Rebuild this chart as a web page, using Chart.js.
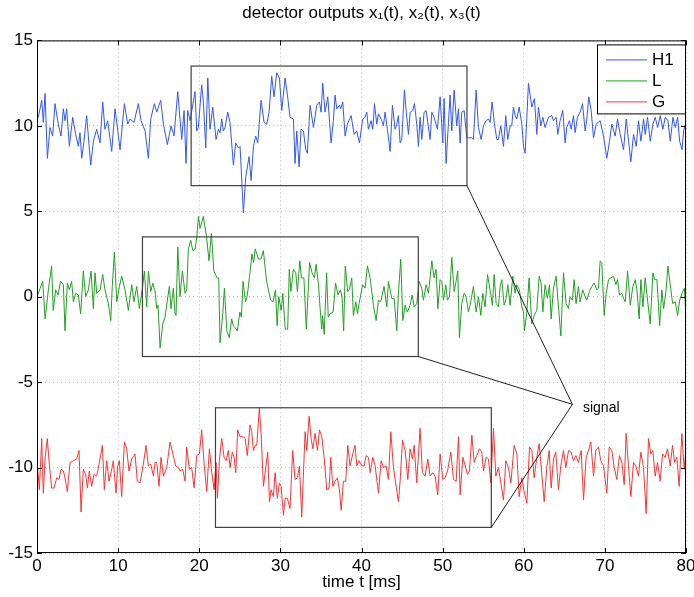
<!DOCTYPE html>
<html><head><meta charset="utf-8">
<script src="https://cdn.jsdelivr.net/npm/chart.js@4.4.1/dist/chart.umd.min.js"></script>
<style>html,body{margin:0;padding:0;background:#fff}#wrap{width:694px;height:597px}</style>
</head><body><div id="wrap"><canvas id="c" width="694" height="597"></canvas></div>
<script>
const TITLE = 'detector outputs x\u2081(t), x\u2082(t), x\u2083(t)';
const X_LABEL = 'time t [ms]';
const SERIES_NAMES = ['H1', 'L', 'G'];
const SERIES_COLORS = ['#3355ff', '#22a022', '#ff3333'];
const X_TICKS = [0, 10, 20, 30, 40, 50, 60, 70, 80];
const Y_TICKS = [-15, -10, -5, 0, 5, 10, 15];

// [t (ms), value]
const H1 = [[0.16,10.5],[0.58,11.5],[0.78,10.2],[0.99,11.9],[1.28,8.1],[1.60,9.9],[1.93,9.4],[2.22,11.3],[2.63,10.1],[2.96,9.4],[3.25,11.0],[3.45,10.3],[3.66,11.0],[3.99,8.8],[4.40,10.5],[4.77,9.5],[5.10,8.8],[5.30,9.6],[5.51,8.1],[5.79,9.1],[6.12,10.6],[6.62,7.7],[6.95,9.1],[7.36,9.8],[7.77,9.0],[8.10,11.4],[8.38,9.8],[8.71,10.3],[9.21,8.5],[9.62,11.0],[10.24,8.6],[10.77,11.3],[11.18,10.1],[11.47,10.4],[11.96,10.2],[12.49,11.3],[12.83,10.3],[13.32,9.7],[13.73,8.1],[14.02,10.4],[14.47,11.3],[14.76,10.8],[15.25,11.5],[15.58,10.1],[16.07,8.9],[16.52,10.0],[16.89,9.4],[17.35,12.0],[17.84,9.2],[18.13,10.9],[18.37,7.8],[18.58,10.9],[18.87,10.3],
[19.48,12.0],[19.69,9.7],[19.89,9.9],[20.30,12.4],[20.51,11.4],[20.80,8.7],[21.05,12.8],[21.33,9.8],[21.66,11.1],[22.07,9.2],[22.36,9.8],[22.56,9.6],[22.77,10.4],[22.97,9.7],[23.18,9.9],[23.51,10.8],[23.80,10.2],[24.21,7.7],[24.49,9.0],[24.83,8.7],[25.03,8.8],[25.44,4.9],[25.73,7.0],[26.14,8.2],[26.39,6.8],[26.68,8.8],[26.96,9.4],[27.21,9.0],[27.62,11.5],[27.99,10.2],[28.32,10.1],[28.61,10.8],[28.93,12.9],[29.22,11.7],[29.55,13.1],[29.88,12.8],[30.17,10.9],[30.58,12.8],[30.87,11.8],[31.19,10.5],[31.61,10.4],[31.81,7.8],[32.02,9.7],[32.31,7.6],[32.55,9.8],[32.84,9.7],[33.13,8.6],[33.33,8.4],[33.66,11.2],[34.08,9.9],[34.48,11.2],[34.81,11.4],[35.02,10.8],[35.22,12.5],[35.51,10.8],[35.84,11.7],[36.25,9.0],[36.53,10.3],[36.74,11.8],[36.95,11.0],[37.28,11.2],[37.44,11.0],[37.69,11.4],[37.98,9.4],[38.27,10.1],[38.72,10.6],[39.09,9.5],[39.41,9.7],[39.75,9.0],
[40.15,10.4],[40.44,10.5],[40.65,10.8],[40.85,9.8],[41.18,10.3],[41.39,9.8],[41.60,11.3],[41.88,10.1],[42.09,10.7],[42.50,10.3],[42.70,10.0],[42.91,10.8],[43.19,9.8],[43.53,8.5],[43.81,11.2],[44.14,9.8],[44.35,10.1],[44.55,10.6],[44.76,9.0],[44.96,9.2],[45.29,12.1],[45.50,10.9],[45.79,9.5],[46.00,10.8],[46.32,10.9],[46.53,11.3],[46.81,10.1],[47.02,8.8],[47.22,10.5],[47.43,9.2],[47.72,10.8],[47.97,10.9],[48.46,9.2],[48.67,10.8],[48.95,10.5],[49.36,9.8],[49.69,11.7],[50.02,9.0],[50.18,11.6],[50.43,7.8],[50.72,10.2],[50.92,11.8],[51.13,9.7],[51.42,12.1],[51.74,10.0],[51.95,11.0],[52.16,9.0],[52.36,10.8],[52.65,10.9],[52.98,9.3],[53.18,9.3],[53.59,9.3],[53.80,9.2],[54.13,12.1],[54.42,9.9],[54.75,9.2],[55.03,10.0],[55.36,10.3],[55.65,10.4],[55.85,10.2],[56.10,11.4],[56.39,10.1],[56.68,9.2],[56.88,9.2],[57.17,10.0],[57.50,8.8],[57.78,10.6],[58.03,9.2],[58.32,10.0],[58.52,10.0],[58.73,11.1],[58.93,10.6],[59.14,10.4],[59.43,11.1],[59.76,10.1],[59.97,8.8],
[60.17,8.4],[60.58,12.5],[60.99,11.1],[61.32,11.6],[61.61,9.5],[61.81,11.1],[62.10,10.0],[62.35,10.5],[62.63,9.9],[63.05,10.5],[63.46,10.6],[63.66,10.3],[63.99,10.5],[64.20,9.5],[64.48,10.3],[64.81,10.9],[65.10,9.0],[65.30,9.9],[65.63,10.3],[65.84,9.8],[66.13,10.6],[66.33,9.6],[66.62,10.5],[66.95,10.8],[67.24,11.3],[67.57,9.7],[67.77,10.4],[68.02,11.7],[68.31,10.9],[68.60,9.3],[68.93,10.1],[69.42,10.3],[69.83,9.4],[70.24,8.1],[70.57,9.1],[70.86,10.1],[71.27,9.4],[71.56,10.4],[71.89,9.5],[72.30,8.6],[72.63,10.4],[72.92,9.1],[73.20,7.9],[73.53,9.5],[73.86,8.8],[74.15,10.3],[74.44,9.1],[74.77,10.4],[74.97,9.5],[75.26,10.5],[75.59,9.1],[75.92,10.1],[76.21,10.5],[76.50,9.9],[76.83,10.6],[77.15,9.8],[77.44,10.5],[77.77,10.3],[78.06,9.1],[78.39,10.5],[78.68,9.9],[78.97,10.5],[79.22,9.1],[79.51,8.6],[79.71,9.7],[79.92,10.1]];

const L = [[0.04,0.05],[0.4,0.5],[0.7,0.9],[1.0,-1.3],[1.4,0.4],[1.8,1.8],[2.0,-0.8],[2.3,0.4],[2.6,0.1],[2.9,0.9],[3.25,0.7],[3.45,-2.0],[3.74,0.8],[3.99,0.4],[4.27,0.9],[4.48,-0.3],[4.77,0.2],[5.10,0.1],[5.38,-1.0],[5.71,1.5],[6.0,0.0],[6.33,0.4],[6.66,1.5],[6.95,-0.7],[7.15,1.4],[7.36,0.2],[7.77,0.4],[8.10,1.3],[8.38,0.4],[8.80,-0.4],[9.09,-1.4],[9.29,0.7],[9.54,2.6],[9.83,-0.3],[10.16,0.6],[10.44,1.2],[10.85,0.4],[11.26,-0.8],[11.68,0.7],[11.96,-0.3],[12.29,0.6],[12.62,-0.7],[12.99,0.5],[13.24,1.5],[13.52,-0.6],[13.73,1.5],[14.02,0.3],[14.27,0.8],[14.55,0.3],[14.76,-0.7],[14.92,-0.5],[15.17,-3.0],[15.50,-1.6],[15.78,-1.2],[16.07,-0.2],[16.32,0.6],[16.52,-0.7],[16.81,0.5],[17.01,-1.0],[17.14,-1.1],[17.35,2.9],[17.63,0.0],[17.92,1.5],[18.25,0.2],[18.45,0.4],[18.66,2.8],[18.95,3.3],[19.2,2.7],[19.5,2.8],[19.7,3.5],[19.9,4.7],[20.1,4.0],
[20.5,4.7],[20.9,3.5],[21.2,2.1],[21.5,3.7],[21.8,1.5],[22.2,1.1],[22.4,1.1],[22.56,-2.7],[22.9,-1.0],[23.1,0.5],[23.4,-2.0],[23.7,-2.4],[24.0,-1.3],[24.2,-1.7],[24.4,-1.8],[24.7,-2.0],[25.0,-0.9],[25.2,-1.2],[25.4,0.9],[25.7,-0.3],[25.9,0.0],[26.2,1.2],[26.5,2.5],[26.7,2.0],[26.9,2.8],[27.3,2.2],[27.6,2.2],[27.9,2.7],[28.3,0.9],[28.8,-0.2],[29.1,-0.3],[29.4,0.4],[29.6,-1.7],[29.8,0.0],[30.1,-0.8],[30.3,0.2],[30.6,-1.9],[30.9,-1.9],[31.1,1.6],[31.3,0.3],[31.6,1.6],[31.9,1.4],[32.1,0.3],[32.4,2.1],[32.6,1.1],[32.9,1.1],[33.2,-1.9],[33.6,2.0],[33.9,1.4],[34.2,1.1],[34.4,1.9],[34.7,0.7],[34.9,-0.7],[35.1,-1.9],[35.2,-1.1],[35.4,-2.2],[35.7,1.4],[35.9,-1.2],[36.1,-1.0],[36.5,-0.9],[36.8,0.8],[37.1,0.1],[37.4,0.4],[37.6,0.0],[37.8,-2.0],[38.0,1.8],[38.3,0.3],[38.5,0.4],[38.8,1.1],[39.0,-1.1],[39.3,-0.3],[39.5,-1.0],[39.7,-0.4],
[40.15,0.7],[40.44,0.5],[40.73,1.8],[41.06,1.1],[41.47,-0.5],[41.80,-1.4],[42.09,-0.2],[42.37,-0.3],[42.78,0.6],[43.12,-0.6],[43.32,0.9],[43.73,-0.1],[44.02,-0.1],[44.35,-2.0],[44.55,0.2],[44.84,2.2],[45.09,-1.4],[45.38,-0.5],[45.66,-0.9],[45.99,-0.5],[46.24,0.1],[46.49,-0.6],[46.81,-0.4],[47.10,0.9],[47.43,0.5],[47.63,-0.2],[47.97,0.7],[48.25,0.2],[48.67,2.1],[48.95,1.1],[49.20,1.6],[49.41,-0.7],[49.69,1.0],[49.90,0.9],[50.10,-0.2],[50.39,0.7],[50.59,-0.2],[50.84,0.0],[51.13,2.3],[51.42,0.3],[51.66,0.9],[51.87,1.5],[52.07,-2.4],[52.36,-0.4],[52.65,0.2],[52.90,0.0],[53.18,-0.9],[53.47,-0.3],[53.80,0.6],[54.13,-0.9],[54.42,0.0],[54.71,-1.1],[54.95,0.2],[55.24,-0.6],[55.53,1.3],[55.85,0.4],[56.14,-0.5],[56.35,1.3],[56.60,-0.4],[56.88,-0.6],[57.09,0.6],[57.30,1.0],[57.58,-0.5],[57.83,-0.1],[58.03,0.7],[58.32,-0.5],[58.65,1.2],[58.93,0.2],[59.14,0.7],[59.47,0.4],[59.76,-0.6],[59.97,-0.9],
[60.09,-2.0],[60.38,-0.9],[60.66,1.1],[60.99,-1.6],[61.28,-1.1],[61.61,-0.8],[61.90,1.2],[62.14,0.8],[62.35,-0.9],[62.63,0.7],[62.92,-0.1],[63.17,0.7],[63.38,-1.3],[63.66,0.5],[63.99,1.2],[64.28,-0.6],[64.57,-2.3],[64.90,1.4],[65.22,-0.4],[65.51,-0.7],[65.71,0.0],[66.00,-0.2],[66.21,1.0],[66.45,-0.4],[66.74,0.6],[66.95,-0.3],[67.28,0.4],[67.57,0.0],[67.77,-0.2],[68.10,0.3],[68.39,0.6],[68.68,0.8],[69.01,0.4],[69.21,0.5],[69.42,2.1],[69.62,2.0],[69.91,-1.1],[70.16,0.2],[70.45,1.0],[70.74,1.1],[71.07,1.2],[71.35,0.7],[71.56,1.0],[71.81,0.1],[72.10,0.2],[72.30,-0.1],[72.51,-0.3],[72.80,1.5],[73.13,-0.5],[73.45,0.6],[73.74,1.0],[73.95,0.4],[74.23,-1.3],[74.44,1.0],[74.69,-0.6],[74.97,1.1],[75.26,-0.2],[75.59,-1.6],[75.92,1.4],[76.13,1.0],[76.42,1.0],[76.75,-1.7],[77.03,0.4],[77.24,-0.7],[77.53,0.3],[77.77,1.8],[78.06,0.7],[78.35,-0.4],[78.68,-0.3],[78.97,-1.1],[79.22,-0.2],[79.51,0.2],[79.80,0.5],[80.0,-1.2]];

const G = [[0.08,-10.0],[0.29,-11.3],[0.58,-8.3],[0.78,-11.5],[0.99,-9.5],[1.27,-8.3],[1.52,-9.8],[1.81,-11.2],[2.10,-11.2],[2.43,-10.6],[2.71,-10.7],[2.96,-10.1],[3.25,-10.2],[3.45,-10.6],[3.74,-11.4],[4.07,-9.7],[4.48,-9.6],[4.89,-9.5],[5.18,-9.0],[5.43,-12.6],[5.71,-10.1],[6.0,-10.4],[6.21,-11.2],[6.45,-10.2],[6.74,-11.1],[7.03,-10.4],[7.36,-10.5],[7.69,-9.7],[8.06,-8.7],[8.30,-11.3],[8.59,-9.6],[8.88,-10.8],[9.21,-10.1],[9.41,-9.6],[9.74,-11.5],[9.95,-9.9],[10.15,-9.6],[10.44,-11.7],[10.77,-8.5],[11.06,-8.9],[11.34,-10.2],[11.67,-9.5],[12.08,-9.2],[12.37,-10.8],[12.70,-10.9],[13.11,-9.8],[13.44,-8.7],[13.73,-9.9],[14.02,-9.8],[14.35,-10.5],[14.55,-9.7],[14.76,-9.7],[15.04,-11.1],[15.29,-9.4],[15.58,-10.5],[15.99,-10.0],[16.40,-8.5],[16.81,-9.3],[17.10,-9.9],[17.43,-10.0],[17.63,-10.2],[17.96,-10.1],[18.25,-10.8],[18.45,-8.8],[18.78,-10.1],[19.07,-10.0],[19.36,-11.2],[19.69,-9.3],[20.02,-9.2],
[20.30,-7.8],[20.59,-9.7],[20.92,-11.4],[21.25,-8.9],[21.54,-10.3],[21.83,-11.3],[22.07,-9.7],[22.24,-11.8],[22.48,-9.6],[22.77,-8.3],[23.06,-9.4],[23.31,-9.6],[23.59,-9.0],[23.80,-10.0],[24.08,-9.1],[24.29,-9.4],[24.50,-10.3],[24.74,-7.8],[25.03,-8.2],[25.44,-8.2],[25.65,-8.3],[25.93,-9.3],[26.26,-7.5],[26.47,-7.9],[26.67,-9.0],[26.88,-8.7],[27.09,-8.7],[27.41,-6.5],[27.62,-8.0],[27.91,-11.1],[28.20,-10.0],[28.44,-9.1],[28.65,-12.0],[28.85,-11.3],[29.14,-11.7],[29.35,-10.3],[29.63,-11.8],[29.88,-10.9],[30.09,-11.1],[30.38,-12.8],[30.58,-11.8],[30.87,-11.8],[31.19,-12.4],[31.52,-9.0],[31.81,-10.7],[32.10,-10.6],[32.35,-9.9],[32.63,-12.9],[33.05,-7.9],[33.25,-9.0],[33.54,-7.0],[33.79,-8.3],[34.00,-8.9],[34.28,-8.0],[34.57,-9.0],[34.82,-7.8],[35.11,-8.2],[35.39,-9.4],[35.72,-11.3],[36.01,-11.2],[36.21,-9.4],[36.46,-11.1],[36.75,-10.8],[37.03,-10.6],[37.28,-11.3],[37.49,-12.5],[37.77,-10.8],[38.06,-10.8],[38.31,-8.7],[38.59,-9.9],[38.92,-9.2],[39.21,-8.7],[39.42,-9.9],[39.71,-9.6],[40.04,-9.9],[40.32,-9.9],[40.57,-9.3],[40.86,-9.4],
[41.06,-10.3],[41.39,-9.4],[41.68,-9.9],[42.09,-11.5],[42.42,-9.6],[42.70,-10.0],[43.03,-9.9],[43.32,-10.7],[43.61,-7.9],[43.94,-10.0],[44.27,-11.1],[44.55,-12.0],[44.76,-10.8],[45.05,-8.4],[45.38,-9.0],[45.71,-10.7],[45.99,-8.9],[46.28,-9.5],[46.49,-8.7],[46.81,-10.9],[47.22,-7.7],[47.51,-10.3],[47.84,-10.5],[48.17,-9.5],[48.46,-10.5],[48.79,-10.3],[49.07,-10.5],[49.40,-11.6],[49.69,-9.2],[50.02,-10.7],[50.31,-10.6],[50.60,-10.2],[51.01,-9.1],[51.34,-10.7],[51.67,-10.8],[51.95,-8.2],[52.16,-11.6],[52.49,-9.4],[52.78,-9.9],[53.07,-10.4],[53.31,-10.2],[53.60,-8.1],[53.89,-9.7],[54.21,-9.3],[54.54,-8.9],[54.83,-9.1],[55.03,-10.2],[55.36,-9.4],[55.65,-9.5],[55.94,-10.9],[56.27,-7.7],[56.56,-10.5],[56.88,-10.0],[57.21,-11.0],[57.50,-11.9],[57.79,-9.6],[58.12,-10.0],[58.41,-10.9],[58.82,-8.7],[59.15,-9.2],[59.43,-11.7],[59.76,-10.6],[60.05,-11.4],[60.38,-12.1],[60.71,-8.8],[61.00,-9.0],[61.28,-10.6],[61.61,-9.4],[61.90,-8.6],[62.23,-10.4],[62.52,-12.0],[62.84,-10.0],[63.13,-9.0],[63.38,-11.2],[63.67,-9.5],[63.95,-9.1],[64.28,-11.3],[64.57,-9.9],[64.90,-9.0],[65.19,-10.0],[65.52,-9.0],[65.84,-9.1],[66.13,-9.6],[66.42,-9.3],[66.75,-9.7],[67.08,-9.0],[67.37,-11.9],[67.69,-9.4],[67.98,-9.0],[68.27,-8.5],[68.60,-10.5],[68.88,-9.0],[69.21,-8.8],[69.50,-9.6],[69.83,-9.9],[70.24,-11.5],[70.53,-8.8],[70.86,-9.0],[71.15,-10.0],[71.47,-10.7],[71.80,-9.3],[72.09,-9.7],[72.38,-11.0],[72.62,-8.0],[72.91,-9.9],[73.20,-11.7],[73.53,-9.7],[73.81,-9.9],[74.14,-10.5],[74.43,-9.1],[74.76,-10.0],[75.09,-12.7],[75.38,-8.3],[75.66,-9.2],[75.91,-9.0],[76.20,-10.5],[76.49,-9.7],[76.82,-10.8],[77.11,-9.2],[77.43,-9.4],[77.72,-8.9],[78.05,-9.9],[78.34,-8.7],[78.59,-9.7],[78.87,-9.4],[79.16,-11.1],[79.49,-8.0],[79.78,-10.1],[80.0,-8.9]];

// annotation boxes: [tStart, tEnd, yLow, yHigh]
const BOXES = [[19, 53, 6.5, 13.5], [13, 47, -3.5, 3.5], [22, 56, -13.5, -6.5]];
// box corners joined to the label point
const LINK_FROM = [[53, 6.5], [47, -3.5], [56, -13.5]];
const LINK_TO = [66, -6.3];
const SIGNAL_TEXT = 'signal';
const SIGNAL_AT = [67.3, -6.5];

const FONT = '"Liberation Sans", Arial, Helvetica, sans-serif';
const SERIES = [H1, L, G];

const decor = {
  id: 'decor',
  afterDatasetsDraw(chart) {
    const {ctx, chartArea: a, scales: {x, y}} = chart;
    const X = v => x.getPixelForValue(v), Y = v => y.getPixelForValue(v);
    ctx.save();
    ctx.strokeStyle = '#404040'; ctx.lineWidth = 1.2;
    BOXES.forEach(b => {
      const x0 = X(b[0]), x1 = X(b[1]), y0 = Y(b[3]), y1 = Y(b[2]);
      ctx.strokeRect(x0, y0, x1 - x0, y1 - y0);
    });
    ctx.strokeStyle = '#202020'; ctx.lineWidth = 1;
    LINK_FROM.forEach(p => {
      ctx.beginPath(); ctx.moveTo(X(p[0]), Y(p[1])); ctx.lineTo(X(LINK_TO[0]), Y(LINK_TO[1])); ctx.stroke();
    });
    ctx.fillStyle = '#000'; ctx.font = '14px ' + FONT; ctx.textBaseline = 'middle'; ctx.textAlign = 'left';
    ctx.fillText(SIGNAL_TEXT, X(SIGNAL_AT[0]), Y(SIGNAL_AT[1]));
    ctx.strokeStyle = '#000'; ctx.lineWidth = 1;
    ctx.strokeRect(a.left + 0.5, a.top + 0.5, a.width - 1, a.height - 1);
    const tl = 5;
    ctx.beginPath();
    X_TICKS.forEach(v => { const px = Math.round(X(v)) + 0.5;
      ctx.moveTo(px, a.top); ctx.lineTo(px, a.top + tl); ctx.moveTo(px, a.bottom); ctx.lineTo(px, a.bottom - tl); });
    Y_TICKS.forEach(v => { const py = Math.round(Y(v)) + 0.5;
      ctx.moveTo(a.left, py); ctx.lineTo(a.left + tl, py); ctx.moveTo(a.right, py); ctx.lineTo(a.right - tl, py); });
    ctx.stroke();
    const lw = 88, lh = 69, lx = a.right - 1 - lw, ly = a.top + 4;
    ctx.fillStyle = '#fff'; ctx.fillRect(lx, ly, lw, lh);
    ctx.strokeStyle = '#000'; ctx.strokeRect(lx + 0.5, ly + 0.5, lw, lh);
    ctx.font = '17px ' + FONT; ctx.textBaseline = 'middle';
    SERIES_NAMES.forEach((n, i) => {
      const yy = ly + 15 + i * 21;
      ctx.strokeStyle = SERIES_COLORS[i]; ctx.beginPath(); ctx.moveTo(lx + 9, yy + 0.5); ctx.lineTo(lx + 50, yy + 0.5); ctx.stroke();
      ctx.fillStyle = '#000'; ctx.fillText(n, lx + 55, yy + 1);
    });
    ctx.restore();
  }
};

new Chart(document.getElementById('c'), {
  type: 'line',
  data: {
    datasets: SERIES.map((s, i) => ({
      label: SERIES_NAMES[i],
      data: s.map(p => ({x: p[0], y: p[1]})),
      borderColor: SERIES_COLORS[i],
      borderWidth: 1,
      pointRadius: 0,
      tension: 0,
      fill: false
    }))
  },
  options: {
    responsive: false,
    animation: false,
    devicePixelRatio: 1,
    layout: {padding: {left: 0, right: 8, top: 0, bottom: 0}},
    plugins: {
      legend: {display: false},
      tooltip: {enabled: false},
      title: {display: true, text: TITLE, color: '#000', fullSize: false,
        font: {family: FONT, size: 17, weight: 'normal'}, padding: {top: 3, bottom: 17}}
    },
    scales: {
      x: {
        type: 'linear', min: 0, max: 80,
        afterBuildTicks: s => { s.ticks = X_TICKS.map(v => ({value: v})); },
        afterFit: s => { s.height = 44; s.paddingLeft = 0; s.paddingRight = 0; },
        ticks: {color: '#000', font: {family: FONT, size: 17}, padding: 3, maxRotation: 0, autoSkip: false},
        grid: {color: '#b8b8b8', lineWidth: 1, drawTicks: false},
        border: {display: false, dash: [1, 3]},
        title: {display: true, text: X_LABEL, color: '#000', font: {family: FONT, size: 17}, padding: {top: 0, bottom: 4}}
      },
      y: {
        type: 'linear', min: -15, max: 15,
        afterBuildTicks: s => { s.ticks = Y_TICKS.map(v => ({value: v})); },
        afterFit: s => { s.width = 37; s.paddingTop = 0; s.paddingBottom = 0; },
        ticks: {color: '#000', font: {family: FONT, size: 17}, padding: 4},
        grid: {color: '#b8b8b8', lineWidth: 1, drawTicks: false},
        border: {display: false, dash: [1, 3]}
      }
    }
  },
  plugins: [decor]
});
</script>
</body></html>
